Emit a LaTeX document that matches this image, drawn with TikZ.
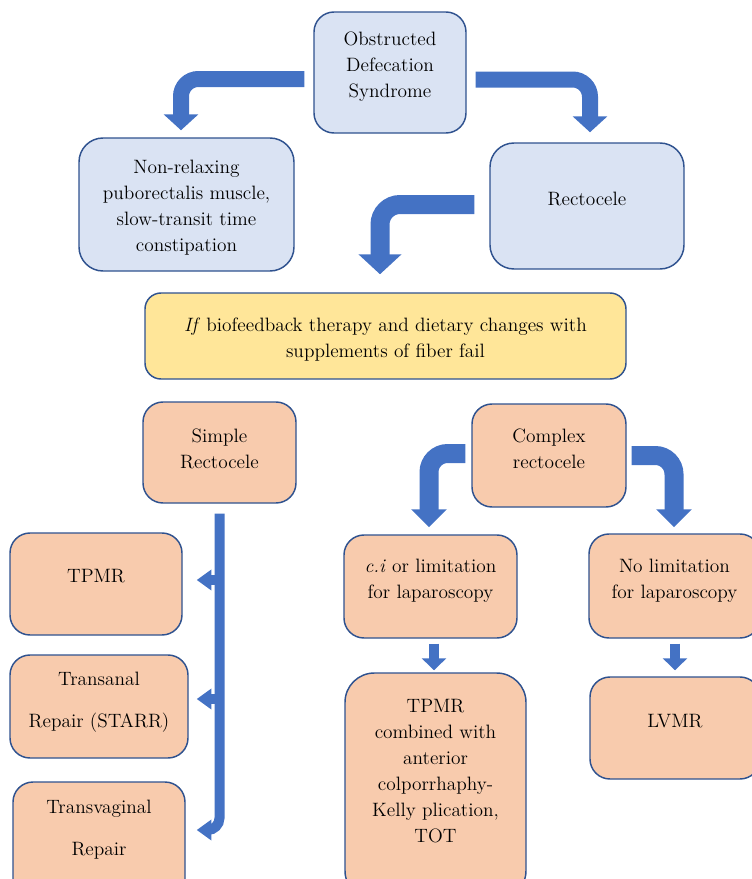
\documentclass[tikz,border=0pt]{standalone}
\usetikzlibrary{arrows.meta,calc,fit}
\definecolor{arrowblue}{HTML}{4472C4}
\definecolor{edgeblue}{HTML}{2F528F}
\definecolor{lightblue}{HTML}{DAE3F3}
\definecolor{lightyellow}{HTML}{FFE699}
\definecolor{lightorange}{HTML}{F8CBAD}
\tikzset{
  box/.style={draw=edgeblue, line width=1.1pt, rounded corners=15pt, inner sep=0pt},
  bluebox/.style={box, fill=lightblue},
  yellowbox/.style={box, fill=lightyellow},
  orangebox/.style={box, fill=lightorange},
  txt/.style={align=center, inner sep=0pt, font=\fontsize{14.5}{19.5}\selectfont},
  widetxt/.style={align=center, inner sep=0pt, font=\fontsize{14.5}{31.5}\selectfont},
  bigA/.style={draw=arrowblue, line width=12pt, rounded corners=13pt,
    -{Triangle[width=25.5pt,length=12pt]}},
  bigB/.style={draw=arrowblue, line width=14.25pt, rounded corners=15pt,
    -{Triangle[width=31.5pt,length=15pt]}},
  bigC/.style={draw=arrowblue, line width=14.25pt, rounded corners=14pt,
    -{Triangle[width=26pt,length=13.5pt]}},
  smallA/.style={draw=arrowblue, line width=7.5pt,
    -{Triangle[width=18pt,length=9pt]}},
  barA/.style={draw=arrowblue, line width=7.5pt, rounded corners=9pt,
    -{Triangle[width=15pt,length=11pt]}},
}
\begin{document}
\begin{tikzpicture}[x=0.75pt,y=-0.75pt]
\useasboundingbox (0,0) rectangle (752,879);
\clip (0,0) rectangle (752,879);
% boxes
\node[bluebox, fit={(314,12) (466,133)}] (ods) {};
\node[txt] (odsT) at (390,67) {Obstructed\\Defecation\\Syndrome};
\node[bluebox, rounded corners=18pt, fit={(79,138) (294,271)}] (nonrelax) {};
\node[txt] (nonrelaxT) at (186.5,208) {Non-relaxing\\puborectalis muscle,\\slow-transit time\\constipation};
\node[bluebox, rounded corners=18pt, fit={(490,143) (684,269)}] (recto) {};
\node[txt] (rectoT) at (587,199) {Rectocele};
\node[yellowbox, rounded corners=12pt, fit={(145,293) (626,379)}] (yellow) {};
\node[txt] (yellowT) at (385.5,340) {\textit{If} biofeedback therapy and dietary changes with\\supplements of fiber fail};
\node[orangebox, fit={(143,402) (296,503)}] (simple) {};
\node[txt] (simpleT) at (219.5,449) {Simple\\Rectocele};
\node[orangebox, fit={(472,404) (626,507)}] (complex) {};
\node[txt] (complexT) at (549,449) {Complex\\rectocele};
\node[orangebox, fit={(10,533) (182,635)}] (tpmr) {};
\node[txt] (tpmrT) at (96,576) {TPMR};
\node[orangebox, fit={(10,655) (188,758)}] (transanal) {};
\node[widetxt] (transanalT) at (99,702) {Transanal\\Repair (STARR)};
\node[orangebox, fit={(13,782) (185,900)}] (transvag) {};
\node[widetxt] (transvagT) at (99,830) {Transvaginal\\Repair};
\node[orangebox, fit={(344,535) (517,638)}] (ci) {};
\node[txt] (ciT) at (430.5,580.5) {\textit{c.i} or limitation\\for laparoscopy};
\node[orangebox, fit={(589,534) (760,638)}] (nolim) {};
\node[txt] (nolimT) at (674.5,580.5) {No limitation\\for laparoscopy};
\node[orangebox, rounded corners=22pt, fit={(345,673) (526,900)}] (tpmrc) {};
\node[txt] (tpmrcT) at (435.5,771) {TPMR\\combined with\\anterior\\colporrhaphy-\\Kelly plication,\\TOT};
\node[orangebox, fit={(590,677) (760,779)}] (lvmr) {};
\node[txt] (lvmrT) at (675,721) {LVMR};
% arrows
\draw[bigA] ($(ods.west)+(-9,6.5)$) -| ($(nonrelax.north)+(-5.5,-7)$);
\draw[bigA] ($(ods.east)+(9,7)$) -| ($(recto.north)+(3,-10)$);
\draw[bigB] ($(recto.west)+(-15,-1.5)$) -| ($(yellow.north)+(-5.5,-18)$);
\draw[bigC] ($(complex.west)+(-6,-2)$) -| ($(ci.north)+(-1.5,-7)$);
\draw[bigC] ($(complex.east)+(5,0)$) -| ($(nolim.north)+(-0.5,-6)$);
\coordinate (ciS) at ($(ci.south)+(3.5,5)$);
\draw[smallA] (ciS) -- ($(ciS |- tpmrc.north)+(0,-2)$);
\coordinate (nolimS) at ($(nolim.south)+(0.5,5)$);
\draw[smallA] (nolimS) -- ($(nolimS |- lvmr.north)+(0,-6)$);
% simple rectocele bar
\coordinate (barTop) at ($(simple.south)+(0,10)$);
\draw[barA] (barTop) |- ($(transvag.east)+(11,-11)$);
\coordinate (b1) at ($(tpmr.east)+(37.5,-4)$);
\draw[barA] (b1) -- ($(tpmr.east)+(14,-4)$);
\coordinate (b2) at ($(transanal.east)+(31.5,-7.5)$);
\draw[barA] (b2) -- ($(transanal.east)+(8,-7.5)$);
\end{tikzpicture}
\end{document}
